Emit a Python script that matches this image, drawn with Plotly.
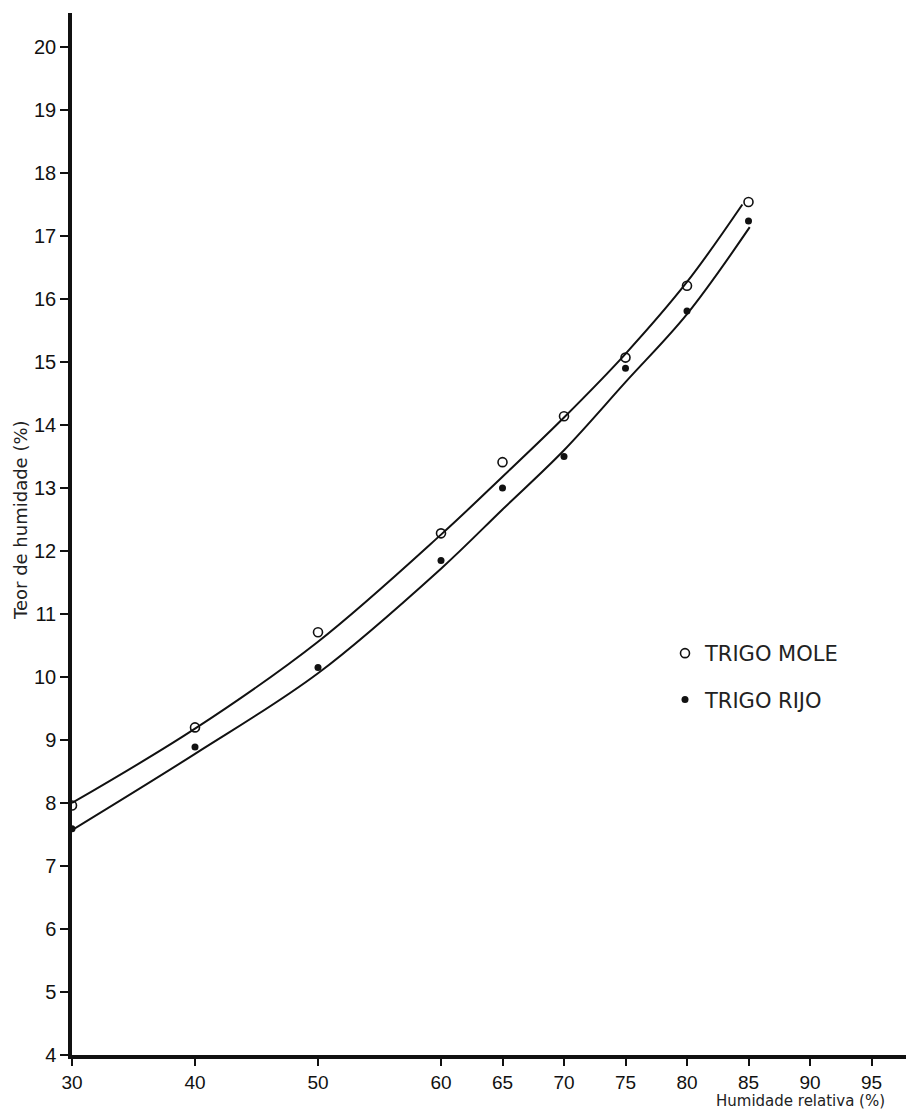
import plotly.graph_objects as go

# Measured points (relative humidity %, moisture content %)
rh = [30, 40, 50, 60, 65, 70, 75, 80, 85]
mole = [7.96, 9.20, 10.71, 12.28, 13.41, 14.14, 15.07, 16.21, 17.54]
rijo = [7.59, 8.89, 10.15, 11.85, 13.00, 13.50, 14.90, 15.81, 17.24]

# Fitted curves
curve_x_mole = [30, 40, 50, 60, 65, 70, 75, 80, 84.5]
curve_y_mole = [8.00, 9.18, 10.56, 12.26, 13.18, 14.12, 15.13, 16.27, 17.50]
curve_x_rijo = [30, 40, 50, 60, 65, 70, 75, 80, 85.1]
curve_y_rijo = [7.57, 8.78, 10.06, 11.72, 12.66, 13.60, 14.68, 15.76, 17.14]

x_ticks = [30, 40, 50, 60, 65, 70, 75, 80, 85, 90, 95]
y_ticks = list(range(4, 21))

W, H = 906, 1113
ML, MR, MT, MB = 72, 0, 13, 58
PW, PH = W - ML - MR, H - MT - MB

fig = go.Figure()
fig.add_trace(go.Scatter(x=curve_x_mole, y=curve_y_mole, mode="lines",
                         line=dict(color="#111", width=2, shape="spline", smoothing=1.0),
                         showlegend=False, hoverinfo="skip"))
fig.add_trace(go.Scatter(x=curve_x_rijo, y=curve_y_rijo, mode="lines",
                         line=dict(color="#111", width=2, shape="spline", smoothing=1.0),
                         showlegend=False, hoverinfo="skip"))
fig.add_trace(go.Scatter(x=rh, y=mole, mode="markers", name="TRIGO MOLE",
                         legendgroup="a",
                         marker=dict(symbol="circle-open", size=9, color="#111",
                                     line=dict(width=1.6, color="#111"))))
fig.add_trace(go.Scatter(x=rh, y=rijo, mode="markers", name="TRIGO RIJO",
                         legendgroup="b",
                         marker=dict(symbol="circle", size=7, color="#111")))

fig.update_layout(
    width=W, height=H,
    margin=dict(l=ML, r=MR, t=MT, b=MB),
    paper_bgcolor="white", plot_bgcolor="white",
    font=dict(family="Liberation Sans, Arial, sans-serif", color="#111"),
    showlegend=True,
    legend=dict(x=(665 - ML) / PW, y=(H - MB - 633) / PH,
                xanchor="left", yanchor="top",
                font=dict(size=21, family="DejaVu Sans, sans-serif", color="#222"),
                bgcolor="rgba(0,0,0,0)", tracegroupgap=16, itemwidth=30),
    xaxis=dict(range=[30, 30 + PW / 12.3], tickvals=x_ticks,
               ticktext=[str(v) for v in x_ticks],
               showgrid=False, zeroline=False, showline=True,
               linecolor="#111", linewidth=3.5, ticks="outside", ticklen=7,
               tickwidth=1.5, tickcolor="#111",
               tickfont=dict(size=19, family="Liberation Sans, Arial, sans-serif")),
    yaxis=dict(range=[4, 4 + PH / 63.0], tickvals=y_ticks,
               showgrid=False, zeroline=False, showline=True,
               linecolor="#111", linewidth=3.5, ticks="outside", ticklen=8,
               tickwidth=1.5, tickcolor="#111",
               tickfont=dict(size=20, family="Liberation Sans, Arial, sans-serif")),
    annotations=[
        dict(text="Teor de humidade (%)", xref="paper", yref="paper",
             x=(20 - ML) / PW, y=(H - MB - 520) / PH,
             xanchor="center", yanchor="middle", textangle=-90, showarrow=False,
             font=dict(size=18, family="DejaVu Sans, sans-serif", color="#222")),
        dict(text="Humidade relativa (%)", xref="paper", yref="paper",
             x=(887 - ML) / PW, y=(H - MB - 1101) / PH,
             xanchor="right", yanchor="middle", showarrow=False,
             font=dict(size=15, family="DejaVu Sans, sans-serif", color="#222")),
    ],
)

fig.write_html("out.html",
               config={"displayModeBar": False},
               post_script="document.body.style.margin='0';"
                           "document.body.style.overflow='hidden';")
